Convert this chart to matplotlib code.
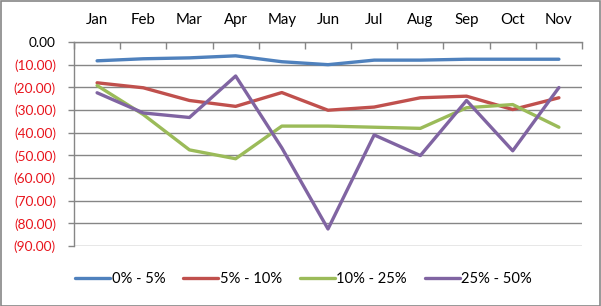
import matplotlib
matplotlib.use("Agg")
import matplotlib.pyplot as plt
from matplotlib.ticker import FixedLocator, FuncFormatter
from matplotlib.patches import Rectangle

months = ["Jan", "Feb", "Mar", "Apr", "May", "Jun", "Jul", "Aug", "Sep", "Oct", "Nov"]
series_names = ["0% - 5%", "5% - 10%", "10% - 25%", "25% - 50%"]
s_0_5 = [-8.3, -7.4, -7.0, -6.1, -8.7, -10.0, -8.0, -8.0, -7.6, -7.6, -7.6]
s_5_10 = [-18.0, -20.2, -25.8, -28.4, -22.3, -30.1, -28.7, -24.6, -23.9, -29.8, -24.6]
s_10_25 = [-19.2, -32.0, -47.6, -51.5, -37.1, -37.1, -37.6, -38.1, -29.0, -27.6, -37.6]
s_25_50 = [-22.4, -31.3, -33.3, -15.0, -46.7, -82.5, -41.0, -50.1, -25.8, -48.0, -20.1]
colors = ["#4F81BD", "#C0504D", "#9BBB59", "#8064A2"]
yticks = [0, -10, -20, -30, -40, -50, -60, -70, -80, -90]

plt.rcParams['font.family'] = ['Lato', 'DejaVu Sans']

fig = plt.figure(figsize=(6.01, 3.06), dpi=100)
ax = fig.add_axes([74/601, 1-246/306, (582-74)/601, (246-42)/306])

x = list(range(len(months)))
for vals, name, c in zip([s_0_5, s_5_10, s_10_25, s_25_50], series_names, colors):
    ax.plot(x, vals, color=c, lw=2.4, label=name, solid_joinstyle='round', solid_capstyle='round')

ax.set_xlim(-0.5, len(months) - 0.5)
ax.set_ylim(-90, 0)
ax.yaxis.set_major_locator(FixedLocator(yticks))
ax.yaxis.set_major_formatter(FuncFormatter(lambda v, p: "0.00" if abs(v) < 1e-9 else ("(%.2f)" % abs(v) if v < 0 else "%.2f" % v)))
ax.grid(axis='y', color='#868686', lw=1.0)
ax.set_axisbelow(True)

# x axis on top, categories centered between tick marks
ax.xaxis.tick_top()
ax.set_xticks([i - 0.5 for i in range(len(months) + 1)])
ax.set_xticklabels([])
ax.set_xticks(x, minor=True)
ax.set_xticklabels(months, minor=True, fontsize=10.8)
ax.tick_params(axis='x', which='major', direction='in', length=5, color='#868686', width=1)
ax.tick_params(axis='x', which='minor', length=0, pad=11)
ax.tick_params(axis='y', direction='out', length=4, color='#868686', width=1, labelsize=9.8, pad=9)

for lbl, v in zip(ax.get_yticklabels(), yticks):
    lbl.set_color('black' if v == 0 else '#E8141C')

for s in ['right', 'bottom']:
    ax.spines[s].set_visible(False)
for s in ['left', 'top']:
    ax.spines[s].set_color('#868686')
    ax.spines[s].set_linewidth(1)

fig.legend(loc='center', bbox_to_anchor=(0.505, 1-279/306), ncol=4, frameon=False,
           fontsize=10.6, handlelength=2.4, handletextpad=0.1, columnspacing=1.2)

fig.patches.append(Rectangle((0.5/601, 0.5/306), 1-1.5/601, 1-1.5/306, transform=fig.transFigure,
                             fill=False, edgecolor='#868686', lw=1.2))

fig.savefig("out.png", dpi=100)
